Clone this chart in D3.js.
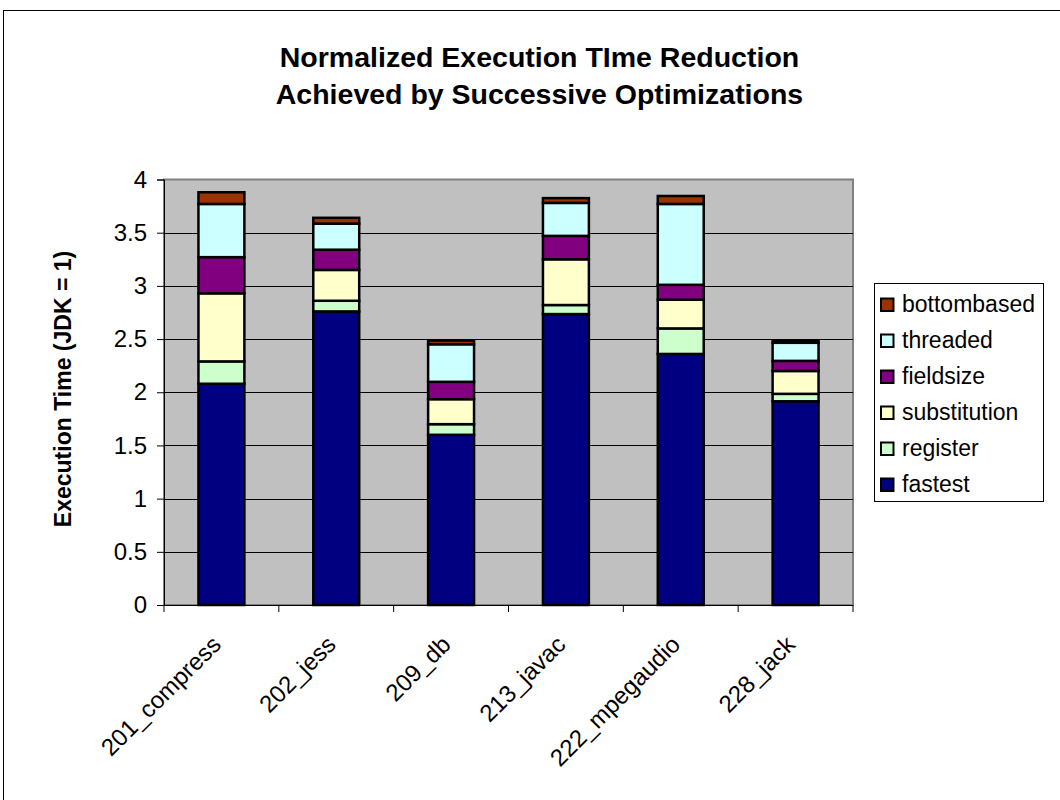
<!DOCTYPE html>
<html><head><meta charset="utf-8">
<script src="https://cdn.jsdelivr.net/npm/d3@7"></script>
<style>body{margin:0;background:#fff}svg{display:block}</style>
</head><body>
<script>
const categories = ["201_compress","202_jess","209_db","213_javac","222_mpegaudio","228_jack"];
const seriesNames = ["fastest","register","substitution","fieldsize","threaded","bottombased"];
const fastest      = [2.08, 2.76, 1.60, 2.735, 2.36, 1.915];
const register     = [0.21, 0.10, 0.10, 0.085, 0.24, 0.07];
const substitution = [0.64, 0.29, 0.235, 0.43, 0.27, 0.215];
const fieldsize    = [0.34, 0.19, 0.163, 0.22, 0.14, 0.095];
const threaded     = [0.50, 0.245, 0.353, 0.31, 0.76, 0.17];
const bottombased  = [0.11, 0.055, 0.035, 0.045, 0.075, 0.016];
const yTicks = [0, 0.5, 1, 1.5, 2, 2.5, 3, 3.5, 4];
const colors = ["#000080","#CCFFCC","#FFFFCC","#800080","#CCFFFF","#993300"];

const seriesVals = [fastest, register, substitution, fieldsize, threaded, bottombased];
const rows = categories.map((c,i)=>{const o={cat:c}; seriesNames.forEach((s,j)=>o[s]=seriesVals[j][i]); return o;});
const stacked = d3.stack().keys(seriesNames)(rows);

const W=1060,H=800;
const svg=d3.select("body").append("svg").attr("width",W).attr("height",H);
svg.append("rect").attr("x",3.5).attr("y",10.5).attr("width",1070).attr("height",800).attr("fill","#fff").attr("stroke","#000").attr("stroke-width",1);

const L=164,R=853,T=179.5,B=605;
const x=d3.scaleBand().domain(categories).range([L,R]).paddingInner(0.6).paddingOuter(0.3);
const y=d3.scaleLinear().domain([0,4]).range([B,T]);

svg.append("rect").attr("x",L).attr("y",T).attr("width",R-L).attr("height",B-T).attr("fill","#C0C0C0").attr("stroke","#808080").attr("stroke-width",2);

svg.append("g").selectAll("line").data(yTicks.filter(d=>d>0&&d<4)).join("line")
 .attr("x1",L).attr("x2",R).attr("y1",d=>Math.round(y(d))+0.5).attr("y2",d=>Math.round(y(d))+0.5).attr("stroke","#000").attr("stroke-width",1);

const fontF="'Liberation Sans', Arial, sans-serif";
// y axis
const ya=svg.append("g").attr("transform",`translate(${L},0)`).call(d3.axisLeft(y).tickValues(yTicks).tickSize(7).tickPadding(10).tickFormat(d3.format("")));
ya.select(".domain").attr("stroke","#000");
ya.selectAll("text").attr("font-family",fontF).attr("font-size",24).attr("fill","#000");
ya.selectAll("line").attr("stroke","#000");

// x axis
const xa=svg.append("g");
xa.append("line").attr("x1",L).attr("x2",R).attr("y1",B+0.5).attr("y2",B+0.5).attr("stroke","#000");
xa.selectAll("line.t").data([L].concat(categories.map((c,i)=>L+(R-L)/categories.length*(i+1)))).join("line").attr("class","t")
 .attr("x1",d=>d).attr("x2",d=>d).attr("y1",B).attr("y2",B+7).attr("stroke","#000");
xa.selectAll("text").data(categories).join("text")
 .attr("font-family",fontF).attr("font-size",24).attr("text-anchor","end")
 .attr("transform",d=>`translate(${x(d)+x.bandwidth()/2+1},${B+41}) rotate(-45)`)
 .text(d=>d);

// bars
svg.append("g").selectAll("g").data(stacked).join("g").attr("fill",(d,i)=>colors[i])
 .selectAll("rect").data(d=>d).join("rect")
 .attr("x",d=>x(d.data.cat)).attr("width",x.bandwidth())
 .attr("y",d=>y(d[1])).attr("height",d=>y(d[0])-y(d[1]))
 .attr("stroke","#000").attr("stroke-width",2.5);

// title
const title=svg.append("text").attr("text-anchor","middle").attr("font-family",fontF).attr("font-weight","bold").attr("font-size",28.5);
title.append("tspan").attr("x",539.5).attr("y",67).text("Normalized Execution TIme Reduction");
title.append("tspan").attr("x",539.5).attr("y",104).text("Achieved by Successive Optimizations");

// y label
svg.append("text").attr("transform","translate(71,389) rotate(-90)").attr("text-anchor","middle")
 .attr("font-family",fontF).attr("font-weight","bold").attr("font-size",23).text("Execution Time (JDK = 1)");

// legend
const lg=svg.append("g");
lg.append("rect").attr("x",874.5).attr("y",283.5).attr("width",169).attr("height",218).attr("fill","#fff").attr("stroke","#000");
const legItems = seriesNames.map((s,i)=>({s,c:colors[i]})).reverse();
const li=lg.selectAll("g").data(legItems).join("g").attr("transform",(d,i)=>`translate(0,${305+i*36})`);
li.append("rect").attr("x",881).attr("y",-6.5).attr("width",12.5).attr("height",12.5).attr("fill",d=>d.c).attr("stroke","#000").attr("stroke-width",2);
li.append("text").attr("x",902).attr("y",6.5).attr("font-family",fontF).attr("font-size",23).text(d=>d.s);
</script>
</body></html>
